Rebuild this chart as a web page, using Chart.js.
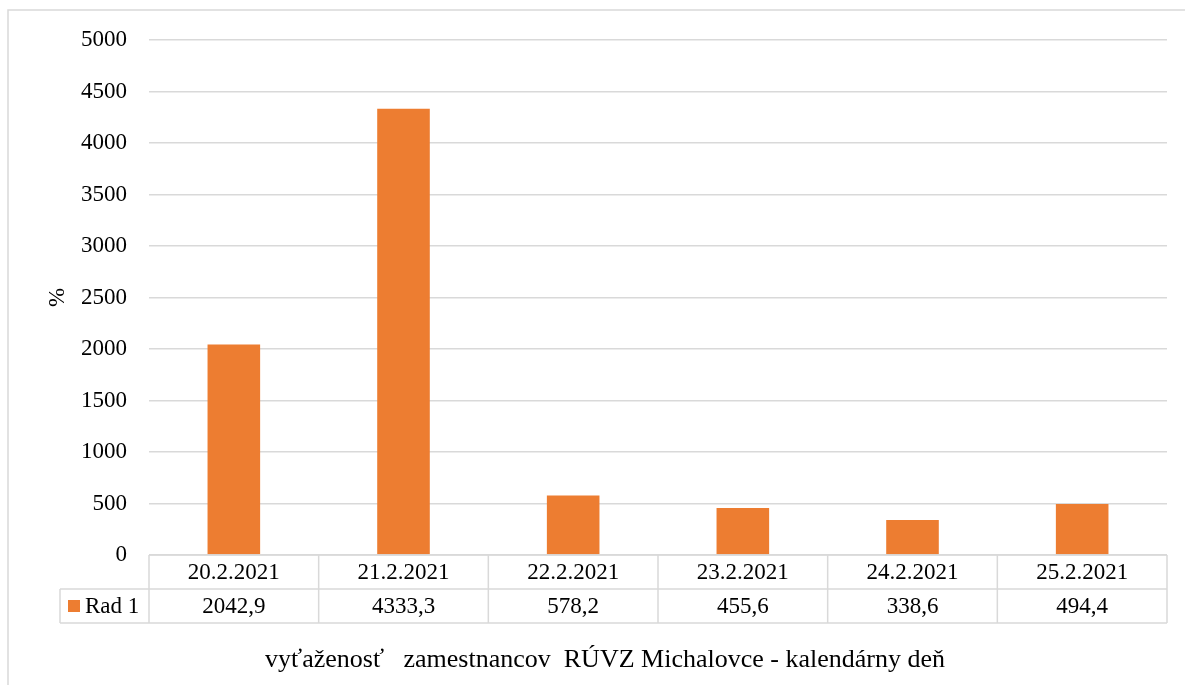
<!DOCTYPE html>
<html>
<head>
<meta charset="utf-8">
<script src="https://cdn.jsdelivr.net/npm/chart.js@4"></script>
<style>
  html, body { margin: 0; padding: 0; background: #fff; }
  #wrap { width: 1185px; height: 685px; }
</style>
</head>
<body>
<div id="wrap"><canvas id="chart"></canvas></div>
<script>
// data
const dates = ['20.2.2021', '21.2.2021', '22.2.2021', '23.2.2021', '24.2.2021', '25.2.2021'];
const values = [2042.9, 4333.3, 578.2, 455.6, 338.6, 494.4];
const seriesName = 'Rad 1';
const yTitle = '%';
const xTitle = 'vyťaženosť   zamestnancov  RÚVZ Michalovce - kalendárny deň';

const FONT = "'Liberation Serif', 'Times New Roman', 'DejaVu Serif', serif";
const GRID = '#d9d9d9';
const BAR = '#ed7d31';

// data table under the plot + outer frame + axis title
const tablePlugin = {
  id: 'dataTable',
  afterDraw(chart) {
    const ctx = chart.ctx;
    const x = chart.scales.x;
    const area = chart.chartArea;
    const rowH = 34;
    const top = area.bottom;
    const mid = top + rowH;
    const bot = mid + rowH;
    const legendLeft = 60;
    const half = (x.getPixelForValue(1) - x.getPixelForValue(0)) / 2;

    ctx.save();
    ctx.strokeStyle = GRID;
    ctx.lineWidth = 1.5;
    ctx.beginPath();
    // horizontal lines
    ctx.moveTo(area.left, top); ctx.lineTo(area.right, top);
    ctx.moveTo(legendLeft, mid); ctx.lineTo(area.right, mid);
    ctx.moveTo(legendLeft, bot); ctx.lineTo(area.right, bot);
    // vertical lines
    ctx.moveTo(legendLeft, mid); ctx.lineTo(legendLeft, bot);
    for (let i = 0; i <= dates.length; i++) {
      const px = x.getPixelForValue(i) - half;
      ctx.moveTo(px, top); ctx.lineTo(px, bot);
    }
    ctx.stroke();

    // outer frame of the chart object
    ctx.beginPath();
    ctx.moveTo(8, 685); ctx.lineTo(8, 10); ctx.lineTo(1185, 10);
    ctx.stroke();

    ctx.fillStyle = '#000';
    ctx.font = '23px ' + FONT;
    ctx.textAlign = 'center';
    ctx.textBaseline = 'middle';
    dates.forEach((d, i) => {
      const cx = x.getPixelForValue(i);
      ctx.fillText(d, cx, top + rowH / 2 + 1);
      ctx.fillText(values[i].toFixed(1).replace('.', ','), cx, mid + rowH / 2 + 1);
    });

    // legend key in the table
    ctx.fillStyle = BAR;
    ctx.fillRect(68, mid + 11, 12, 12);
    ctx.fillStyle = '#000';
    ctx.textAlign = 'left';
    ctx.fillText(seriesName, 85, mid + rowH / 2 + 1);

    // x axis title
    ctx.font = '26px ' + FONT;
    ctx.textAlign = 'center';
    ctx.fillText(xTitle, 605, 660);
    ctx.restore();
  }
};

function drawChart() {
  new Chart(document.getElementById('chart'), {
    type: 'bar',
    data: {
      labels: dates,
      datasets: [{
        label: seriesName,
        data: values,
        backgroundColor: BAR,
        borderWidth: 0,
        barPercentage: 0.62,
        categoryPercentage: 0.5
      }]
    },
    options: {
      responsive: true,
      maintainAspectRatio: false,
      animation: false,
      layout: { padding: { top: 40, left: 40, right: 18, bottom: 130 } },
      plugins: {
        legend: { display: false },
        tooltip: { enabled: false }
      },
      scales: {
        x: {
          display: false
        },
        y: {
          min: 0,
          max: 5000,
          ticks: {
            stepSize: 500,
            padding: 22,
            color: '#000',
            font: { family: FONT, size: 23 },
            callback: v => String(v)
          },
          grid: { color: GRID, lineWidth: 1.5, drawTicks: false },
          border: { display: false },
          title: {
            display: true,
            text: yTitle,
            color: '#000',
            font: { family: FONT, size: 23 },
            padding: 4
          },
          afterFit(scale) { scale.width = 109; }
        }
      }
    },
    plugins: [tablePlugin]
  });
}

document.fonts.load("23px 'Liberation Serif'").then(drawChart, drawChart);
</script>
</body>
</html>
